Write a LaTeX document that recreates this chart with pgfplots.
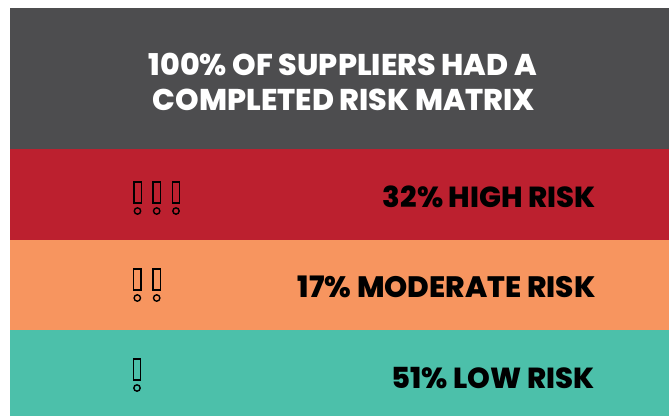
\documentclass[border=0pt]{standalone}
\usepackage{pgfplots}
\pgfplotsset{compat=1.18}
\usepackage{fontspec}
\setmainfont{Poppins}[BoldFont={Poppins ExtraBold}]
\definecolor{hdrgray}{HTML}{4D4D4F}
\definecolor{riskhigh}{HTML}{BC202F}
\definecolor{riskmod}{HTML}{F7955F}
\definecolor{risklow}{HTML}{4CC0AA}

% exclamation icon, origin at middle of the glyph
\pgfdeclareplotmark{exclam}{%
  {\pgfsetcornersarced{\pgfpoint{1.8pt}{1.8pt}}%
  \pgfpathrectangle{\pgfpoint{-3.7pt}{-5pt}}{\pgfpoint{7.4pt}{21pt}}%
  \pgfusepathqstroke}%
  \pgfpathcircle{\pgfpoint{0pt}{-13pt}}{3.2pt}%
  \pgfusepathqstroke
}

\begin{document}
\begin{tikzpicture}
\begin{axis}[
  width=669pt, height=416pt, scale only axis,
  xmin=0, xmax=669, ymin=0, ymax=416,
  y dir=reverse,
  hide axis,
  clip=false,
]
% white background so the page keeps its margins
\addplot[fill=white, draw=none] coordinates {(0,0)(669,0)(669,416)(0,416)} -- cycle;
% header and the three risk bands
\addplot[fill=hdrgray, draw=none] coordinates {(10,8)(669,8)(669,149)(10,149)} -- cycle;
\addplot[fill=riskhigh, draw=none] coordinates {(10,149)(669,149)(669,240)(10,240)} -- cycle;
\addplot[fill=riskmod, draw=none] coordinates {(10,240)(669,240)(669,330)(10,330)} -- cycle;
\addplot[fill=risklow, draw=none] coordinates {(10,330)(669,330)(669,416)(10,416)} -- cycle;

% icons: three, two and one exclamation marks
\addplot[only marks, mark=exclam, black, line width=1.4pt] coordinates {(137.5,198)(156.7,198)(176,198)};
\addplot[only marks, mark=exclam, black, line width=1.4pt] coordinates {(137.3,285)(156.7,285)};
\addplot[only marks, mark=exclam, black, line width=1.4pt] coordinates {(137,375)};

\node[anchor=base, text=white, font=\bfseries\fontsize{30}{32}\selectfont] at (axis cs:343,75) {100\% OF SUPPLIERS HAD A};
\node[anchor=base, text=white, font=\bfseries\fontsize{30}{32}\selectfont] at (axis cs:344,110) {COMPLETED RISK MATRIX};

\node[anchor=base east, font=\bfseries\fontsize{29}{31}\selectfont] at (axis cs:599,207) {32\% HIGH RISK};
\node[anchor=base east, font=\bfseries\fontsize{29.5}{31}\selectfont] at (axis cs:599,297) {17\% MODERATE RISK};
\node[anchor=base east, font=\bfseries\fontsize{29}{31}\selectfont] at (axis cs:598,388) {51\% LOW RISK};
\end{axis}
\end{tikzpicture}
\end{document}
